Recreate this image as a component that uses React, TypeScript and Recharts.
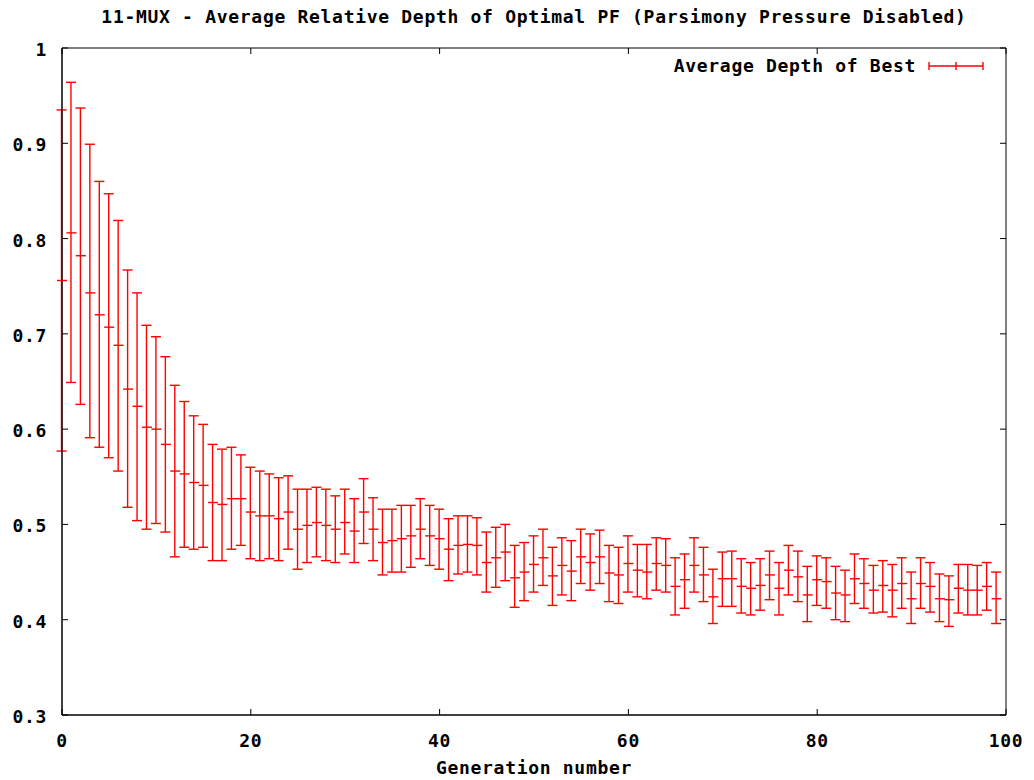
import React from 'react';
import { ComposedChart, Scatter, Bar, XAxis, YAxis, ReferenceArea } from 'recharts';

const meanDepth = [
  0.756, 0.806, 0.782, 0.743, 0.720, 0.707, 0.688, 0.642, 0.624, 0.602,
  0.600, 0.584, 0.556, 0.553, 0.544, 0.541, 0.523, 0.521, 0.527, 0.527,
  0.513, 0.509, 0.509, 0.506, 0.513, 0.495, 0.499, 0.502, 0.499, 0.495,
  0.502, 0.493, 0.513, 0.495, 0.481, 0.483, 0.485, 0.488, 0.495, 0.488,
  0.485, 0.474, 0.478, 0.479, 0.478, 0.460, 0.465, 0.471, 0.444, 0.450,
  0.458, 0.465, 0.446, 0.457, 0.451, 0.466, 0.460, 0.466, 0.449, 0.447,
  0.459, 0.452, 0.450, 0.459, 0.457, 0.435, 0.442, 0.457, 0.447, 0.424,
  0.443, 0.443, 0.435, 0.433, 0.436, 0.447, 0.433, 0.452, 0.445, 0.426,
  0.442, 0.440, 0.428, 0.426, 0.443, 0.438, 0.431, 0.436, 0.431, 0.438,
  0.422, 0.438, 0.435, 0.422, 0.421, 0.433, 0.431, 0.431, 0.435, 0.422,
];

const highDepth = [
  0.935, 0.964, 0.937, 0.899, 0.860, 0.847, 0.819, 0.767, 0.743, 0.709,
  0.697, 0.676, 0.646, 0.629, 0.614, 0.605, 0.584, 0.579, 0.581, 0.573,
  0.560, 0.556, 0.553, 0.549, 0.551, 0.537, 0.537, 0.539, 0.537, 0.530,
  0.537, 0.527, 0.548, 0.528, 0.516, 0.516, 0.520, 0.520, 0.527, 0.520,
  0.516, 0.506, 0.509, 0.509, 0.507, 0.492, 0.497, 0.500, 0.478, 0.481,
  0.488, 0.495, 0.476, 0.486, 0.483, 0.495, 0.490, 0.494, 0.478, 0.476,
  0.488, 0.479, 0.479, 0.486, 0.485, 0.465, 0.469, 0.486, 0.476, 0.453,
  0.471, 0.472, 0.464, 0.460, 0.464, 0.472, 0.460, 0.478, 0.472, 0.456,
  0.467, 0.465, 0.456, 0.452, 0.469, 0.464, 0.457, 0.462, 0.458, 0.465,
  0.450, 0.465, 0.460, 0.448, 0.446, 0.458, 0.458, 0.457, 0.460, 0.450,
];

const lowDepth = [
  0.577, 0.649, 0.626, 0.591, 0.581, 0.570, 0.556, 0.518, 0.504, 0.495,
  0.501, 0.492, 0.466, 0.476, 0.474, 0.476, 0.462, 0.462, 0.474, 0.478,
  0.464, 0.462, 0.464, 0.462, 0.474, 0.453, 0.460, 0.466, 0.462, 0.460,
  0.469, 0.460, 0.480, 0.462, 0.447, 0.450, 0.450, 0.455, 0.464, 0.457,
  0.453, 0.441, 0.448, 0.450, 0.447, 0.429, 0.434, 0.441, 0.413, 0.420,
  0.429, 0.436, 0.415, 0.426, 0.420, 0.438, 0.431, 0.438, 0.419, 0.417,
  0.429, 0.424, 0.422, 0.431, 0.429, 0.405, 0.412, 0.429, 0.419, 0.396,
  0.414, 0.414, 0.407, 0.405, 0.410, 0.421, 0.405, 0.426, 0.419, 0.398,
  0.415, 0.412, 0.400, 0.398, 0.417, 0.412, 0.407, 0.408, 0.403, 0.412,
  0.396, 0.412, 0.408, 0.398, 0.393, 0.407, 0.405, 0.405, 0.410, 0.396,
];

const xTicks = [0, 20, 40, 60, 80, 100];
const yTicks = [0.3, 0.4, 0.5, 0.6, 0.7, 0.8, 0.9, 1];
const xDomain: [number, number] = [0, 100];
const yDomain: [number, number] = [0.3, 1];

const TITLE = '11-MUX - Average Relative Depth of Optimal PF (Parsimony Pressure Disabled)';
const X_LABEL = 'Generation number';
const LEGEND_LABEL = 'Average Depth of Best';

const W = 1034;
const H = 780;
const MARGIN = { top: 48, right: 28, bottom: 0, left: 0 };
const Y_AXIS_W = 62;
const X_AXIS_H = 65;
const PLOT_L = MARGIN.left + Y_AXIS_W;
const PLOT_R = W - MARGIN.right;
const PLOT_T = MARGIN.top;
const TICK_LEN = 6;
const RED = '#ff0000';
const LINE_W = 1.4;
const CAP_HALF = 5;
const FONT = '"DejaVu Sans Mono", monospace';
const FONT_SIZE = 18;
const LETTER_SP = 0.7;
const textStyle: React.CSSProperties = {
  fontFamily: FONT,
  fontWeight: 'bold',
  fontSize: FONT_SIZE,
  letterSpacing: LETTER_SP,
  lineHeight: `${FONT_SIZE + 3}px`,
  color: '#000',
  whiteSpace: 'pre',
};

const data = meanDepth.map((m, i) => ({
  gen: i,
  mean: m,
  range: [lowDepth[i], highDepth[i]],
}));

const YTick = (props: any) => {
  const { x, y, payload } = props;
  return (
    <g>
      <line x1={x} x2={x + TICK_LEN} y1={y} y2={y} stroke="#000" strokeWidth={1} />
      <line x1={PLOT_R} x2={PLOT_R - TICK_LEN} y1={y} y2={y} stroke="#000" strokeWidth={1} />
      <text
        x={x - 15}
        y={y + 8}
        textAnchor="end"
        fontFamily={FONT}
        fontWeight="bold"
        fontSize={FONT_SIZE}
        letterSpacing={LETTER_SP}
        fill="#000"
      >
        {String(Math.round(payload.value * 10) / 10)}
      </text>
    </g>
  );
};

const XTick = (props: any) => {
  const { x, y, payload } = props;
  return (
    <g>
      <line x1={x} x2={x} y1={y} y2={y - TICK_LEN} stroke="#000" strokeWidth={1} />
      <line x1={x} x2={x} y1={PLOT_T} y2={PLOT_T + TICK_LEN} stroke="#000" strokeWidth={1} />
      <text
        x={x}
        y={y + 32}
        textAnchor="middle"
        fontFamily={FONT}
        fontWeight="bold"
        fontSize={FONT_SIZE}
        letterSpacing={LETTER_SP}
        fill="#000"
      >
        {String(payload.value)}
      </text>
    </g>
  );
};

const MeanMark = (props: any) => {
  const { cx, cy } = props;
  return <line x1={cx - CAP_HALF} x2={cx + CAP_HALF} y1={cy} y2={cy} stroke={RED} strokeWidth={LINE_W} />;
};

const RangeBar = (props: any) => {
  const { x, y, width, height } = props;
  if (x == null || y == null) return null;
  const cx = x + width / 2;
  const top = Math.min(y, y + height);
  const bot = Math.max(y, y + height);
  return (
    <g>
      <line x1={cx} x2={cx} y1={top} y2={bot} stroke={RED} strokeWidth={LINE_W} />
      <line x1={cx - CAP_HALF} x2={cx + CAP_HALF} y1={top} y2={top} stroke={RED} strokeWidth={LINE_W} />
      <line x1={cx - CAP_HALF} x2={cx + CAP_HALF} y1={bot} y2={bot} stroke={RED} strokeWidth={LINE_W} />
    </g>
  );
};

export default function App() {
  return (
    <div style={{ position: 'absolute', left: 0, top: 0, width: W, height: H, background: '#fff' }}>
      <ComposedChart width={W} height={H} data={data} margin={MARGIN}>
        <XAxis
          dataKey="gen"
          type="number"
          domain={xDomain}
          ticks={xTicks}
          tick={<XTick />}
          tickSize={0}
          tickMargin={0}
          tickLine={false}
          axisLine={{ stroke: '#000', strokeWidth: 1 }}
          height={X_AXIS_H}
          interval={0}
        />
        <YAxis
          type="number"
          domain={yDomain}
          ticks={yTicks}
          tick={<YTick />}
          tickSize={0}
          tickMargin={0}
          tickLine={false}
          axisLine={{ stroke: '#000', strokeWidth: 1 }}
          width={Y_AXIS_W}
          interval={0}
          allowDataOverflow
        />
        <ReferenceArea
          x1={xDomain[0]}
          x2={xDomain[1]}
          y1={yDomain[0]}
          y2={yDomain[1]}
          fill="none"
          fillOpacity={0}
          stroke="#000"
          strokeWidth={1}
          ifOverflow="visible"
        />
        <Bar dataKey="range" barSize={10} shape={<RangeBar />} isAnimationActive={false} fill={RED} />
        <Scatter dataKey="mean" shape={<MeanMark />} isAnimationActive={false} fill={RED} />
      </ComposedChart>

      <div style={{ ...textStyle, position: 'absolute', left: PLOT_L, width: PLOT_R - PLOT_L, top: 6, textAlign: 'center' }}>
        {TITLE}
      </div>
      <div
        style={{
          ...textStyle,
          position: 'absolute',
          left: PLOT_L,
          width: PLOT_R - PLOT_L,
          top: 757,
          textAlign: 'center',
        }}
      >
        {X_LABEL}
      </div>
      <div
        style={{
          position: 'absolute',
          right: W - 986,
          top: PLOT_T + 7,
          display: 'flex',
          alignItems: 'center',
        }}
      >
        <span style={{ ...textStyle }}>{LEGEND_LABEL}</span>
        <svg width={58} height={12} style={{ marginLeft: 12 }}>
          <line x1={1} x2={55} y1={6} y2={6} stroke={RED} strokeWidth={LINE_W} />
          <line x1={1} x2={1} y1={2} y2={10} stroke={RED} strokeWidth={LINE_W} />
          <line x1={55} x2={55} y1={2} y2={10} stroke={RED} strokeWidth={LINE_W} />
          <line x1={28} x2={28} y1={2} y2={10} stroke={RED} strokeWidth={LINE_W} />
        </svg>
      </div>
    </div>
  );
}
